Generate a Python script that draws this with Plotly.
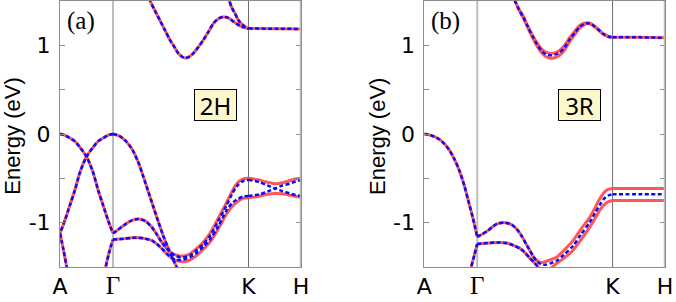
import plotly.graph_objects as go

# ---------------- high-symmetry points / ticks ----------------
kpt_labels = ["A", "<span style='font-family:Liberation Serif;font-size:25px'>Γ</span>", "K", "H"]
kpt_pos = [0.0, 0.53, 1.885, 2.41]
ytick_vals = [-1.5, -1.0, -0.5, 0.0, 0.5, 1.0, 1.5]
ytick_text = ["", "-1", "", "0", "", "1", ""]
panel_tags = ["(a)", "(b)"]
stack_names = ["2H", "3R"]

# ---------------- panel (a) 2H ----------------
# A-Γ bands (red and blue coincide)
a_ag1_k = [0.0, 0.04, 0.09, 0.147, 0.2, 0.267, 0.33, 0.383, 0.43, 0.483, 0.53]
a_ag1_e = [0.0, -0.01, -0.04, -0.08, -0.15, -0.26, -0.43, -0.64, -0.80, -0.98, -1.12]
a_ag2_k = [0.53, 0.49, 0.44, 0.383, 0.33, 0.263, 0.2, 0.147, 0.1, 0.047, 0.0]
a_ag2_e = [0.0, -0.01, -0.04, -0.08, -0.15, -0.26, -0.43, -0.64, -0.80, -0.98, -1.12]
a_ag3_k = [0.0, 0.035, 0.067, 0.08]
a_ag3_e = [-1.12, -1.31, -1.5, -1.57]
a_ag4_k = [0.445, 0.457, 0.49, 0.53]
a_ag4_e = [-1.56, -1.5, -1.34, -1.19]
# Γ-K top valence band
a_gk1_k = [0.53, 0.59, 0.65, 0.72, 0.783, 0.833, 0.883, 0.933, 0.983, 1.033, 1.083, 1.125, 1.167, 1.2]
a_gk1_e = [0.0, -0.02, -0.07, -0.17, -0.32, -0.48, -0.65, -0.82, -0.99, -1.15, -1.29, -1.40, -1.5, -1.58]
# Γ-K band with hump -> upper K band
a_gk2_k = [0.53, 0.58, 0.65, 0.72, 0.783, 0.85, 0.917, 0.967, 1.017, 1.06, 1.10, 1.15, 1.2, 1.24,
           1.30, 1.367, 1.433, 1.50, 1.583, 1.667, 1.72, 1.767, 1.833, 1.885]
a_gk2_red = [-1.12, -1.08, -1.02, -0.975, -0.96, -0.98, -1.05, -1.13, -1.22, -1.28, -1.33, -1.36, -1.375, -1.375,
             -1.35, -1.29, -1.22, -1.12, -0.95, -0.77, -0.65, -0.56, -0.505, -0.50]
a_gk2_blue = [-1.12, -1.08, -1.02, -0.975, -0.96, -0.98, -1.05, -1.13, -1.22, -1.28, -1.33, -1.37, -1.39, -1.39,
              -1.37, -1.31, -1.24, -1.15, -0.98, -0.80, -0.68, -0.59, -0.53, -0.52]
# Γ-K flat band -> lower K band
a_gk3_k = [0.53, 0.6, 0.65, 0.72, 0.783, 0.85, 0.917, 0.967, 1.017, 1.067, 1.117, 1.17, 1.22, 1.25,
           1.30, 1.367, 1.433, 1.50, 1.583, 1.667, 1.72, 1.767, 1.833, 1.885]
a_gk3_red = [-1.19, -1.185, -1.18, -1.17, -1.17, -1.18, -1.20, -1.24, -1.29, -1.35, -1.40, -1.43, -1.44, -1.44,
             -1.42, -1.37, -1.30, -1.22, -1.07, -0.90, -0.82, -0.77, -0.725, -0.72]
a_gk3_blue = [-1.19, -1.185, -1.18, -1.17, -1.17, -1.18, -1.20, -1.24, -1.29, -1.35, -1.40, -1.42, -1.42, -1.41,
              -1.39, -1.34, -1.27, -1.19, -1.04, -0.86, -0.78, -0.74, -0.705, -0.70]
# K-H valence
a_kh_k = [1.885, 1.95, 2.0, 2.075, 2.15, 2.225, 2.30, 2.36, 2.41]
a_kh_red_up = [-0.50, -0.51, -0.52, -0.545, -0.56, -0.55, -0.525, -0.505, -0.50]
a_kh_red_lo = [-0.72, -0.71, -0.70, -0.68, -0.67, -0.675, -0.69, -0.705, -0.715]
a_kh_blue_1 = [-0.52, -0.53, -0.545, -0.58, -0.615, -0.645, -0.67, -0.69, -0.70]
a_kh_blue_2 = [-0.70, -0.69, -0.68, -0.65, -0.615, -0.58, -0.56, -0.535, -0.52]
# conduction bands
a_c1_k = [0.88, 0.90, 0.95, 1.0, 1.05, 1.10, 1.15, 1.183, 1.217, 1.25, 1.29, 1.333, 1.383, 1.433, 1.483,
          1.533, 1.583, 1.633, 1.683, 1.733, 1.783, 1.817, 1.85, 1.885]
a_c1_e = [1.60, 1.507, 1.39, 1.28, 1.17, 1.06, 0.97, 0.91, 0.875, 0.857, 0.87, 0.91, 0.98, 1.06, 1.15,
          1.245, 1.30, 1.32, 1.31, 1.27, 1.23, 1.21, 1.20, 1.19]
a_c2_k = [1.685, 1.693, 1.72, 1.75, 1.78, 1.80, 1.85, 1.885]
a_c2_e = [1.56, 1.507, 1.42, 1.36, 1.29, 1.26, 1.21, 1.19]
a_ckh_k = [1.885, 2.15, 2.41]
a_ckh_e = [1.19, 1.187, 1.185]

# ---------------- panel (b) 3R ----------------
b_ag1_k = [0.0, 0.05, 0.10, 0.15, 0.20, 0.25, 0.30, 0.35, 0.40, 0.44, 0.487, 0.53]
b_ag1_e = [0.0, -0.01, -0.03, -0.06, -0.11, -0.18, -0.28, -0.41, -0.58, -0.75, -0.95, -1.16]
b_ag2_k = [0.46, 0.47, 0.50, 0.53]
b_ag2_e = [-1.56, -1.5, -1.37, -1.24]
b_gk1_k = [0.53, 0.58, 0.637, 0.69, 0.737, 0.807, 0.87, 0.924, 0.975, 1.024, 1.06, 1.09, 1.13, 1.17, 1.21,
           1.26, 1.324, 1.40, 1.49, 1.57, 1.657, 1.71, 1.757, 1.80, 1.84, 1.883]
b_gk1_red = [-1.16, -1.13, -1.09, -1.04, -1.01, -1.0, -1.02, -1.07, -1.15, -1.25, -1.32, -1.38, -1.43, -1.45,
             -1.44, -1.42, -1.39, -1.31, -1.20, -1.07, -0.94, -0.83, -0.73, -0.66, -0.625, -0.615]
b_gk1_blue = [-1.16, -1.13, -1.09, -1.04, -1.01, -1.0, -1.02, -1.07, -1.15, -1.25, -1.32, -1.38, -1.44, -1.47,
              -1.475, -1.46, -1.43, -1.36, -1.26, -1.13, -0.995, -0.89, -0.80, -0.73, -0.695, -0.68]
b_gk2_k = [0.53, 0.58, 0.637, 0.70, 0.76, 0.82, 0.857, 0.90, 0.957, 1.0, 1.057, 1.10, 1.14, 1.18, 1.22,
           1.26, 1.324, 1.40, 1.49, 1.57, 1.657, 1.71, 1.757, 1.80, 1.84, 1.883]
b_gk2_red = [-1.24, -1.235, -1.23, -1.225, -1.225, -1.23, -1.24, -1.26, -1.29, -1.33, -1.40, -1.45, -1.50, -1.53,
             -1.535, -1.52, -1.46, -1.40, -1.31, -1.19, -1.05, -0.95, -0.86, -0.80, -0.765, -0.75]
b_gk2_blue_k = [0.53, 0.58, 0.637, 0.70, 0.76, 0.82, 0.857, 0.90, 0.957, 1.0, 1.057, 1.10, 1.14, 1.18]
b_gk2_blue = [-1.24, -1.235, -1.23, -1.225, -1.225, -1.23, -1.24, -1.26, -1.29, -1.33, -1.40, -1.45, -1.50, -1.56]
b_kh_k = [1.883, 2.15, 2.41]
b_kh_red_up = [-0.615, -0.615, -0.615]
b_kh_red_lo = [-0.75, -0.75, -0.75]
b_kh_blue = [-0.68, -0.68, -0.68]
b_c_k = [0.895, 0.907, 0.95, 0.99, 1.04, 1.09, 1.13, 1.174, 1.215, 1.257, 1.307, 1.357, 1.407, 1.457, 1.507,
         1.557, 1.60, 1.63, 1.67, 1.707, 1.75, 1.79, 1.84, 1.883]
b_c_blue = [1.58, 1.507, 1.40, 1.32, 1.20, 1.09, 1.01, 0.94, 0.90, 0.887, 0.895, 0.92, 0.98, 1.07, 1.14,
            1.21, 1.24, 1.25, 1.24, 1.21, 1.17, 1.13, 1.10, 1.09]
b_c_red_up = [1.58, 1.507, 1.405, 1.33, 1.21, 1.10, 1.025, 0.96, 0.925, 0.91, 0.915, 0.945, 1.005, 1.09, 1.16,
              1.225, 1.25, 1.255, 1.245, 1.215, 1.175, 1.135, 1.10, 1.09]
b_c_red_lo = [1.58, 1.507, 1.395, 1.31, 1.19, 1.075, 0.99, 0.915, 0.875, 0.855, 0.86, 0.89, 0.95, 1.045, 1.12,
              1.195, 1.23, 1.245, 1.235, 1.205, 1.165, 1.125, 1.10, 1.09]
b_ckh_k = [1.883, 2.15, 2.41]
b_ckh_e = [1.09, 1.09, 1.085]

# ---------------- styles ----------------
RED = "#ff5757"
BLUE = "#0a0aff"
red_line = dict(color=RED, width=3, shape="spline", smoothing=0.8)
blue_line = dict(color=BLUE, width=2.5, dash="4px,2.5px", shape="spline", smoothing=0.8)

fig = go.Figure()


def add(k, e, style, ax):
    fig.add_trace(go.Scatter(x=k, y=e, mode="lines", line=style, xaxis="x" + ax, yaxis="y" + ax,
                             showlegend=False, hoverinfo="skip"))


panel_a_red = [
    (a_ag1_k, a_ag1_e), (a_ag2_k, a_ag2_e), (a_ag3_k, a_ag3_e), (a_ag4_k, a_ag4_e),
    (a_gk1_k, a_gk1_e), (a_gk2_k, a_gk2_red), (a_gk3_k, a_gk3_red),
    (a_kh_k, a_kh_red_up), (a_kh_k, a_kh_red_lo),
    (a_c1_k, a_c1_e), (a_c2_k, a_c2_e), (a_ckh_k, a_ckh_e),
]
panel_a_blue = [
    (a_ag1_k, a_ag1_e), (a_ag2_k, a_ag2_e), (a_ag3_k, a_ag3_e), (a_ag4_k, a_ag4_e),
    (a_gk1_k, a_gk1_e), (a_gk2_k, a_gk2_blue), (a_gk3_k, a_gk3_blue),
    (a_kh_k, a_kh_blue_1), (a_kh_k, a_kh_blue_2),
    (a_c1_k, a_c1_e), (a_c2_k, a_c2_e), (a_ckh_k, a_ckh_e),
]
panel_b_red = [
    (b_ag1_k, b_ag1_e), (b_ag2_k, b_ag2_e), (b_gk1_k, b_gk1_red), (b_gk2_k, b_gk2_red),
    (b_kh_k, b_kh_red_up), (b_kh_k, b_kh_red_lo),
    (b_c_k, b_c_red_up), (b_c_k, b_c_red_lo), (b_ckh_k, b_ckh_e),
]
panel_b_blue = [
    (b_ag1_k, b_ag1_e), (b_ag2_k, b_ag2_e), (b_gk1_k, b_gk1_blue), (b_gk2_blue_k, b_gk2_blue),
    (b_kh_k, b_kh_blue), (b_c_k, b_c_blue), (b_ckh_k, b_ckh_e),
]

for k, e in panel_a_red:
    add(k, e, red_line, "")
for k, e in panel_b_red:
    add(k, e, red_line, "2")
for k, e in panel_a_blue:
    add(k, e, blue_line, "")
for k, e in panel_b_blue:
    add(k, e, blue_line, "2")

# ---------------- layout ----------------
W, H = 676, 302
ML, MR, MT, MB = 60, 11, 1, 35
PW = W - ML - MR
dom_a = [0.0, 241 / PW]
dom_b = [(424.3 - ML) / PW, 1.0]

AXC = "#8c8c8c"
tickfont = dict(family="DejaVu Sans", size=22, color="black")

xax = dict(range=[kpt_pos[0], kpt_pos[-1]], tickvals=kpt_pos, ticktext=kpt_labels, ticks="",
           showgrid=False, zeroline=False, showline=True, linecolor=AXC, linewidth=1, mirror=True,
           tickfont=tickfont, ticklabelstandoff=0, automargin=False)
yax = dict(range=[-1.5, 1.5], tickvals=ytick_vals, ticktext=ytick_text, ticks="inside", ticklen=5,
           tickcolor=AXC, showgrid=False, zeroline=False, showline=True, linecolor=AXC, linewidth=1,
           mirror="ticks", tickfont=tickfont, ticklabelstandoff=4, automargin=False)

fig.update_layout(
    width=W, height=H, margin=dict(l=ML, r=MR, t=MT, b=MB, autoexpand=False),
    paper_bgcolor="white", plot_bgcolor="white",
    xaxis=dict(xax, domain=dom_a, anchor="y"),
    yaxis=dict(yax, anchor="x"),
    xaxis2=dict(xax, domain=dom_b, anchor="y2"),
    yaxis2=dict(yax, anchor="x2"),
)

shapes = []
annotations = []
for ax, dom, tag, name in [("", dom_a, panel_tags[0], stack_names[0]), ("2", dom_b, panel_tags[1], stack_names[1])]:
    xr, yr = "x" + ax, "y" + ax
    shapes.append(dict(type="line", xref=xr, yref=yr, x0=kpt_pos[1], x1=kpt_pos[1], y0=-1.5, y1=1.5,
                       line=dict(color="#bdbdbd", width=2), layer="below"))
    shapes.append(dict(type="line", xref=xr, yref=yr, x0=kpt_pos[2], x1=kpt_pos[2], y0=-1.5, y1=1.5,
                       line=dict(color="#6e6e6e", width=1), layer="below"))
    shapes.append(dict(type="line", xref=xr, yref=yr, x0=kpt_pos[3], x1=kpt_pos[3], y0=-1.5, y1=1.5,
                       line=dict(color="#bdbdbd", width=2.5), layer="above"))
    x0p = dom[0]
    spanp = dom[1] - dom[0]
    annotations.append(dict(xref="paper", yref="paper", x=x0p + 5 / PW, y=0.925,
                            xanchor="left", yanchor="middle", showarrow=False, text=tag,
                            font=dict(family="Liberation Serif", size=25, color="black")))
    annotations.append(dict(xref="paper", yref="paper", x=x0p + spanp * 0.645, y=0.609,
                            xanchor="center", yanchor="middle", showarrow=False, text=name,
                            width=41, height=30, borderpad=0, borderwidth=1, bordercolor="black",
                            bgcolor="#fdf8cb",
                            font=dict(family="Noto Sans", size=24, color="black")))
    annotations.append(dict(xref="paper", yref="paper", x=x0p - 47 / PW, y=0.49,
                            xanchor="center", yanchor="middle", showarrow=False, text="Energy (eV)",
                            textangle=-90,
                            font=dict(family="Liberation Sans", size=22, color="black")))

fig.update_layout(shapes=shapes, annotations=annotations)
fig.write_html("out.html", config={"displayModeBar": False, "staticPlot": True},
               post_script="document.body.style.margin='0px';document.body.style.overflow='hidden';")
